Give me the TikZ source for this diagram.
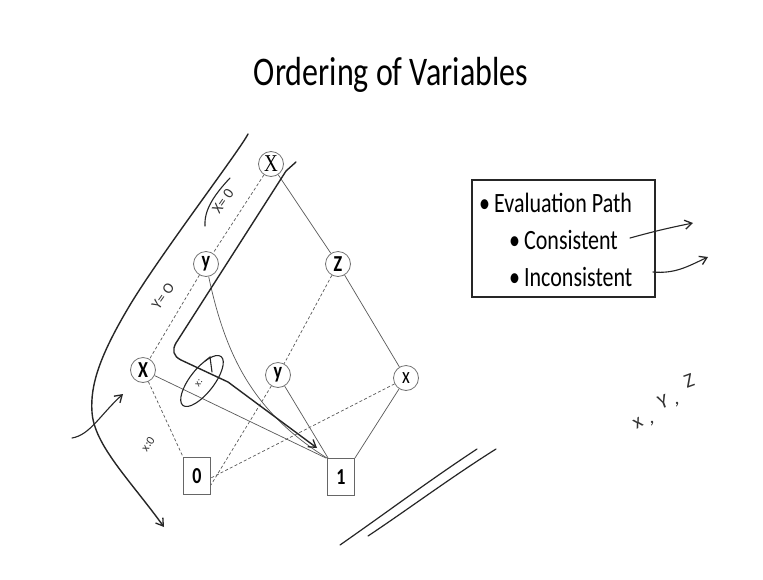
\documentclass[tikz,border=0pt]{standalone}
\usepackage{graphicx}
\usepackage{fontspec}
\setmainfont{Carlito}
\newfontfamily\serifx{Liberation Serif}
\newcommand{\vstretch}[1]{\scalebox{1}[1.27]{#1}}
\usetikzlibrary{arrows.meta}
\begin{document}
\begin{tikzpicture}[x=1pt,y=-1pt,
  vnode/.style={circle, draw=black!55, line width=0.8pt, minimum size=25pt, inner sep=0pt, font=\fontsize{18}{18}\selectfont\bfseries},
  tnode/.style={rectangle, draw=black!60, line width=0.8pt, minimum width=27pt, minimum height=37pt, inner sep=0pt, font=\fontsize{18}{18}\selectfont\bfseries},
  edge/.style={draw=black!65, line width=0.7pt},
  dedge/.style={edge, dash pattern=on 3pt off 2.2pt},
  ink/.style={line width=1.4pt, draw=black!85, line cap=round, line join=round},
  barb/.style={-{Straight Barb[length=7pt,width=9pt,line width=1.3pt]}},
  hand/.style={font=\fontsize{12}{12}\selectfont, text=black!80, inner sep=0pt},
  boxtext/.style={anchor=west, inner sep=0pt, font=\fontsize{22}{22}\selectfont}
]
\useasboundingbox (0,0) rectangle (763,579);
\fill[white] (0,0) rectangle (763,579);

% title
\node[font=\fontsize{32}{32}\selectfont] (title) at (391,75) {\vstretch{Ordering of Variables}};

% BDD nodes
\node[vnode, font=\fontsize{19}{19}\selectfont\serifx] (xt) at (271,164) {\vstretch{X}};
\node[vnode] (yu) at (206,264) {\vstretch{y}};
\node[vnode] (z) at (338,264) {\vstretch{Z}};
\node[vnode] (xl) at (143,370) {\vstretch{X}};
\node[vnode] (ym) at (278,375) {\vstretch{y}};
\node[vnode, font=\fontsize{18}{18}\selectfont] (xr) at (406,378) {\vstretch{x}};
\node[tnode] (zero) at (197,476) {\vstretch{0}};
\node[tnode] (one) at (341,477) {\vstretch{1}};

% edges
\draw[dedge] (xt) -- (yu);
\draw[edge] (xt) -- (z);
\draw[dedge] (yu) -- (xl);
\draw[edge] (yu) to[out=-78,in=148] (one.north west);
\draw[dedge] (z) -- (ym);
\draw[edge] (z) -- (xr);
\draw[dedge] (xl) -- (zero.north west);
\draw[edge] (xl) -- ([xshift=-1pt]one.north west);
\draw[dedge] (ym) -- ([yshift=-9pt]zero.east);
\draw[edge] (ym) -- ([xshift=1pt]one.north west);
\draw[dedge] (xr) -- ([yshift=-2pt]zero.east);
\draw[edge] (xr) -- (one.north east);

% evaluation path box
\draw[line width=1.2pt, black!85] (472,180) rectangle (655,297);
\node[boxtext] (t1) at (479,203) {\vstretch{\textbullet\hspace{4pt}Evaluation Path}};
\node[boxtext] (t2) at (509,240) {\vstretch{\textbullet\hspace{4pt}Consistent}};
\node[boxtext] (t3) at (509,277) {\vstretch{\textbullet\hspace{4pt}Inconsistent}};

% hand-drawn annotations
\coordinate (ca) at (630,238);
\coordinate (cb) at (693,223);
\draw[ink, barb, line width=1.1pt] (ca) to[bend left=2] (cb);
\coordinate (ia) at (653,272);
\coordinate (ib) at (708,257);
\draw[ink, barb, line width=1.1pt] (ia) to[out=-5,in=205] (ib);

% outer path stroke
\coordinate (o1) at (248,134);
\coordinate (o2) at (164,527);
\draw[ink, barb] (o1) .. controls (240,150) and (160,255) .. (130,305)
  .. controls (100,355) and (90,385) .. (92,412)
  .. controls (94,445) and (130,480) .. (o2);

% inner path stroke
\coordinate (i1) at (296,162);
\coordinate (i2) at (317,448);
\draw[ink, barb] (i1) -- (286,171) -- (176,343) .. controls (172,350) and (173,356) .. (181,360)
  -- (228,382) -- (i2);

% ellipse and its mark
\draw[line width=1.1pt, black!85] (202,381) ellipse[x radius=31pt, y radius=12pt, rotate=52];
\draw[line width=1.1pt, black!85, line cap=round] (205,361) -- (210,357) -- (212,372);
\node[hand, rotate=55, font=\fontsize{10}{10}\selectfont] (xc) at (199,383) {x:};

% small crossing arrow
\coordinate (s1) at (72,438);
\coordinate (s2) at (123,394);
\draw[ink, barb, line width=1.1pt] (s1) .. controls (90,435) and (100,415) .. (s2);

% edge labels
\draw[line width=1.1pt, black!85, line cap=round] (205,226) .. controls (204,210) and (214,195) .. (230,178);
\node[hand, rotate=55, font=\fontsize{15}{15}\selectfont] (lx) at (223,201) {X= 0};
\node[hand, rotate=55, font=\fontsize{15}{15}\selectfont] (ly) at (163,296) {Y= O};
\node[hand, rotate=55, font=\fontsize{12}{12}\selectfont] (lx2) at (148,444) {x:0};

% x, Y, Z (hand-written, scattered)
\node[hand, rotate=30, font=\fontsize{20}{20}\selectfont] (hx) at (638,423) {x};
\node[hand, font=\fontsize{20}{20}\selectfont] (hc1) at (652,424) {,};
\node[hand, rotate=20, font=\fontsize{20}{20}\selectfont] (hy) at (663,402) {Y};
\node[hand, font=\fontsize{20}{20}\selectfont] (hc2) at (677,405) {,};
\node[hand, rotate=20, font=\fontsize{20}{20}\selectfont] (hz) at (689,381) {Z};

% double lines
\coordinate (d1) at (340,545);
\coordinate (d2) at (477,449);
\coordinate (d3) at (368,536);
\coordinate (d4) at (496,449);
\draw[ink, line width=1.2pt] (d1) .. controls (390,510) and (430,480) .. (d2);
\draw[ink, line width=1.2pt] (d3) .. controls (410,508) and (450,478) .. (d4);
\end{tikzpicture}
\end{document}
